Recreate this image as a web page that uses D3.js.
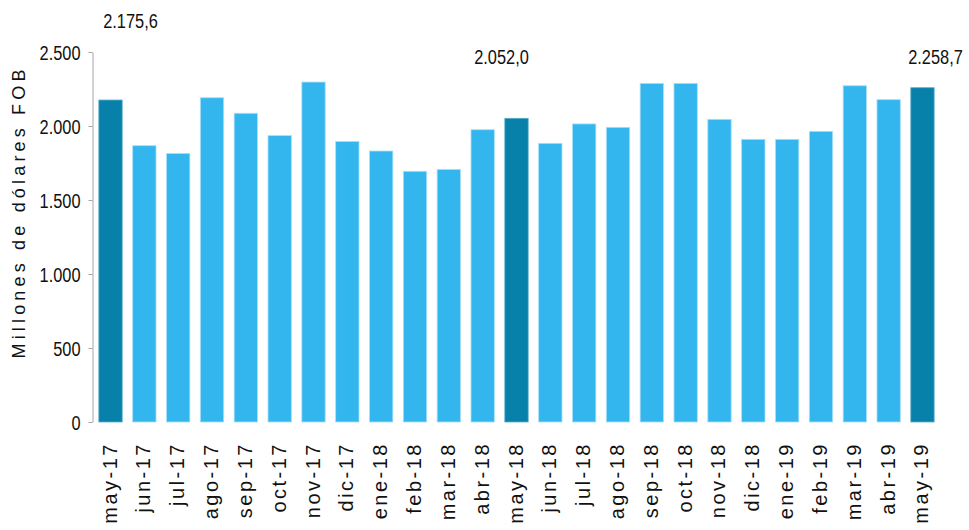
<!DOCTYPE html>
<html>
<head>
<meta charset="utf-8">
<script src="https://cdn.jsdelivr.net/npm/d3@7"></script>
<style>
  body { margin: 0; background: #fff; }
  svg { display: block; }
  .tick-label { font-family: "Liberation Sans", Arial, sans-serif; font-size: 21px; fill: #111; }
  .month-label { font-family: "Liberation Sans", Arial, sans-serif; font-size: 20px; letter-spacing: 2.5px; fill: #111; }
  .axis-title { font-family: "Liberation Sans", Arial, sans-serif; font-size: 18px; fill: #111; }
  .note { font-family: "Liberation Sans", Arial, sans-serif; font-size: 21px; fill: #111; }
</style>
</head>
<body>
<svg id="chart" width="969" height="530"></svg>
<script>
// months shown on the x axis
let months = ["may-17", "jun-17", "jul-17", "ago-17", "sep-17", "oct-17", "nov-17",
  "dic-17", "ene-18", "feb-18", "mar-18", "abr-18", "may-18", "jun-18", "jul-18",
  "ago-18", "sep-18", "oct-18", "nov-18", "dic-18", "ene-19", "feb-19", "mar-19",
  "abr-19", "may-19"];

// exports, millions of dollars FOB
let values = [2175.6, 1867, 1815, 2191, 2086, 1935, 2297, 1896, 1831, 1694, 1707,
  1975, 2052.0, 1883, 2014, 1991, 2288, 2288, 2045, 1910, 1910, 1964, 2272, 2178, 2258.7];

// highlighted months and their labels
let highlighted = ["may-17", "may-18", "may-19"];
let highlightLabels = ["2.175,6", "2.052,0", "2.258,7"];

let yTicks = [0, 500, 1000, 1500, 2000, 2500];

let drawBarChart = function() {
  let svg = d3.select("svg#chart");

  const lightBlue = "#33b6ee";
  const darkBlue = "#0780aa";
  const narrow = 0.78; // the original uses a condensed face

  let yScale = d3.scaleLinear()
    .domain([0, 2500])
    .range([422, 52]);

  let xScale = d3.scaleBand()
    .domain(months)
    .range([93.6, 939.4])
    .paddingInner(0.31)
    .paddingOuter(0.155);

  // y axis
  let yAxis = d3.axisLeft(yScale)
    .tickValues(yTicks)
    .tickSize(4)
    .tickSizeOuter(0)
    .tickFormat(d => d3.format(",")(d).replace(/,/g, "."));

  let yGroup = svg.append("g")
    .attr("transform", translate(92.5, 0))
    .call(yAxis);
  yGroup.attr("font-size", null).attr("font-family", null);
  yGroup.select(".domain").attr("stroke", "#a6a6a6");
  yGroup.selectAll(".tick line").attr("stroke", "#a6a6a6");
  yGroup.selectAll(".tick text")
    .attr("class", "tick-label")
    .attr("x", -12 / narrow)
    .attr("dy", "0.35em")
    .attr("transform", "scale(" + narrow + ",1)");

  // bars
  let data = months.map((m, i) => ({ month: m, value: values[i] }));

  svg.append("g").selectAll("rect")
    .data(data)
    .join("rect")
    .attr("x", d => xScale(d.month))
    .attr("y", d => yScale(d.value))
    .attr("width", xScale.bandwidth())
    .attr("height", d => yScale(0) - yScale(d.value))
    .attr("fill", d => highlighted.includes(d.month) ? darkBlue : lightBlue)
    .attr("stroke", d => highlighted.includes(d.month) ? "#5aaecb" : "#a9e0f8")
    .attr("stroke-width", 0.8);

  // x labels, rotated
  svg.append("g").selectAll("text")
    .data(months)
    .join("text")
    .attr("class", "month-label")
    .attr("text-anchor", "end")
    .attr("transform", d => translate(xScale(d) + xScale.bandwidth() / 2 + 6, 442) + " rotate(-90)")
    .text(d => d);

  // highlighted value notes
  const noteDx = [20, -15, 13];
  const noteY = [28, 64, 64];
  svg.append("g").selectAll("text")
    .data(highlighted)
    .join("text")
    .attr("class", "note")
    .attr("text-anchor", "middle")
    .attr("transform", (d, i) => translate(xScale(d) + xScale.bandwidth() / 2 + noteDx[i], noteY[i])
      + " scale(" + narrow + ",1)")
    .text((d, i) => highlightLabels[i]);

  // y title
  svg.append("text")
    .attr("class", "axis-title")
    .attr("text-anchor", "middle")
    .attr("transform", translate(25, 214) + " rotate(-90)")
    .attr("textLength", 289)
    .attr("lengthAdjust", "spacing")
    .text("Millones de dólares FOB");
};

drawBarChart();

function translate(x, y) {
  return "translate(" + String(x) + "," + String(y) + ")";
}
</script>
</body>
</html>
